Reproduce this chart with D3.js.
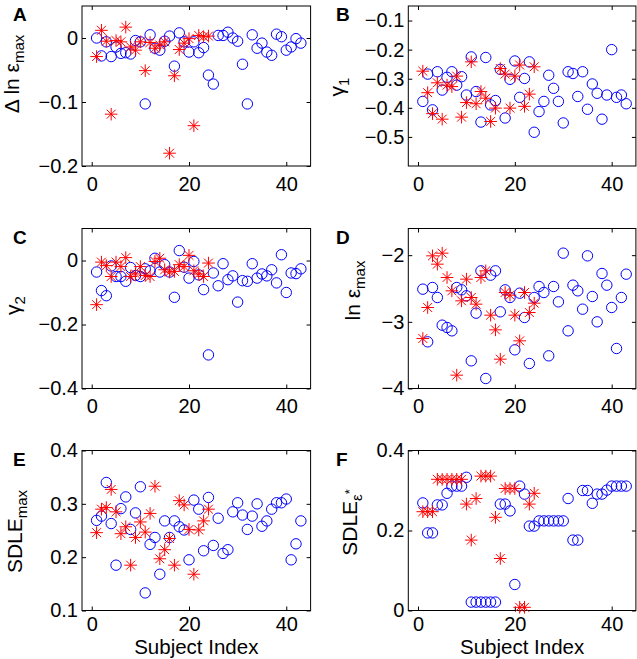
<!DOCTYPE html>
<html>
<head>
<meta charset="utf-8">
<script src="https://cdn.jsdelivr.net/npm/d3@7"></script>
<style>
body { margin: 0; background: #fff; }
text { font-family: "Liberation Sans", Arial, sans-serif; fill: #000; }
</style>
</head>
<body>
<div id="fig"></div>
<script>
var width = 637,
    height = 659;

// values, subject index = position in array + 1
var dlnBlue = [0.000,-0.028,-0.006,-0.029,-0.014,-0.024,-0.023,-0.025,-0.004,-0.006,-0.103,0.005,-0.016,-0.019,-0.005,0.003,-0.044,0.008,-0.006,-0.022,-0.006,-0.023,-0.015,-0.058,-0.072,0.004,0.004,0.009,0.000,-0.005,-0.041,-0.103,0.005,-0.016,-0.008,-0.022,-0.027,0.006,0.002,-0.019,-0.014,-0.001,-0.008];
var dlnRed = [-0.029,0.012,-0.005,-0.119,-0.004,-0.006,0.017,-0.014,-0.019,-0.006,-0.051,-0.007,-0.016,-0.011,-0.006,-0.180,-0.059,-0.018,-0.008,-0.001,-0.137,0.004,0.002,0.003];

var gamma1Blue = [-0.378,-0.284,-0.407,-0.276,-0.339,-0.295,-0.276,-0.322,-0.293,-0.356,-0.225,-0.344,-0.449,-0.227,-0.390,-0.375,-0.268,-0.435,-0.302,-0.239,-0.364,-0.299,-0.242,-0.484,-0.413,-0.378,-0.288,-0.333,-0.378,-0.452,-0.276,-0.282,-0.361,-0.276,-0.405,-0.318,-0.350,-0.439,-0.356,-0.200,-0.364,-0.356,-0.386];
var gamma1Red = [-0.274,-0.348,-0.420,-0.314,-0.439,-0.322,-0.327,-0.291,-0.432,-0.382,-0.242,-0.386,-0.344,-0.367,-0.447,-0.401,-0.265,-0.284,-0.401,-0.291,-0.253,-0.395,-0.353,-0.259];

var gamma2Blue = [-0.036,-0.094,-0.110,-0.017,-0.050,-0.050,-0.065,-0.022,-0.047,-0.050,-0.026,-0.032,0.007,-0.036,-0.013,-0.036,-0.115,0.031,-0.021,-0.055,-0.003,-0.045,-0.091,-0.295,-0.039,-0.079,-0.010,-0.060,-0.048,-0.130,-0.063,-0.065,-0.010,-0.055,-0.042,-0.048,-0.029,-0.070,0.018,-0.100,-0.039,-0.041,-0.026];
var gamma2Red = [-0.138,-0.005,-0.016,-0.050,-0.005,-0.019,0.009,-0.050,-0.042,-0.019,-0.047,-0.050,-0.003,0.007,-0.029,-0.036,-0.034,-0.013,-0.019,0.016,-0.032,-0.042,-0.050,-0.008];

var lnEpsBlue = [-2.51,-3.30,-2.485,-2.635,-3.05,-3.085,-3.135,-2.485,-2.52,-2.61,-3.585,-2.87,-2.235,-3.85,-2.30,-2.235,-2.85,-2.52,-2.635,-3.42,-2.57,-2.935,-3.625,-2.635,-2.47,-2.56,-3.51,-2.47,-2.70,-1.97,-3.135,-2.45,-2.535,-2.81,-2.01,-2.62,-3.00,-2.275,-2.45,-2.785,-3.40,-2.635,-2.285];
var lnEpsRed = [-3.25,-2.785,-2.01,-2.135,-1.97,-2.335,-2.535,-3.80,-2.685,-2.36,-2.635,-2.735,-2.335,-2.235,-2.90,-3.12,-3.56,-2.56,-2.60,-2.90,-3.285,-2.56,-2.86,-2.72];

var sdleMaxBlue = [0.269,0.277,0.340,0.263,0.185,0.291,0.313,0.252,0.283,0.332,0.133,0.224,0.237,0.168,0.268,0.237,0.268,0.257,0.251,0.195,0.307,0.290,0.212,0.312,0.222,0.273,0.207,0.214,0.285,0.302,0.279,0.252,0.277,0.300,0.258,0.268,0.290,0.302,0.302,0.309,0.195,0.225,0.268];
var sdleMaxRed = [0.246,0.290,0.293,0.327,0.285,0.244,0.257,0.185,0.237,0.266,0.247,0.282,0.333,0.197,0.214,0.235,0.185,0.306,0.298,0.252,0.168,0.251,0.268,0.290];

var sdleEpsBlue = [0.269,0.194,0.194,0.264,0.264,0.293,0.311,0.311,0.311,0.333,0.021,0.021,0.021,0.021,0.021,0.021,0.266,0.266,0.249,0.065,0.311,0.291,0.211,0.211,0.224,0.224,0.224,0.224,0.224,0.224,0.280,0.176,0.176,0.300,0.300,0.268,0.291,0.291,0.301,0.311,0.311,0.311,0.311];
var sdleEpsRed = [0.247,0.247,0.247,0.328,0.328,0.328,0.328,0.328,0.328,0.266,0.176,0.280,0.336,0.336,0.336,0.233,0.130,0.305,0.305,0.305,0.008,0.008,0.266,0.293];

var xTicks = [0, 20, 40];
var xTitle = "Subject Index";

// panel setup: letter, data, y range, ticks, label (main + subscript)
var panels = [
  {letter:"A", blue:dlnBlue, red:dlnRed, yDom:[-0.2,0.05], yTicks:[-0.2,-0.1,0], lab:"Δ ln ε", sub:"max", col:0, row:0, labDx:63, labCy:68},
  {letter:"B", blue:gamma1Blue, red:gamma1Red, yDom:[-0.6,-0.05], yTicks:[-0.5,-0.4,-0.3,-0.2,-0.1], lab:"γ", sub:"1", col:1, row:0, labDx:64, labCy:81},
  {letter:"C", blue:gamma2Blue, red:gamma2Red, yDom:[-0.4,0.1], yTicks:[-0.4,-0.2,0], lab:"γ", sub:"2", col:0, row:1, labDx:62, labCy:77},
  {letter:"D", blue:lnEpsBlue, red:lnEpsRed, yDom:[-4,-1.6], yTicks:[-4,-3,-2], lab:"ln ε", sub:"max", col:1, row:1, labDx:48, labCy:62},
  {letter:"E", blue:sdleMaxBlue, red:sdleMaxRed, yDom:[0.1,0.4], yTicks:[0.1,0.2,0.3,0.4], lab:"SDLE", sub:"max", col:0, row:2, labDx:60, labCy:81},
  {letter:"F", blue:sdleEpsBlue, red:sdleEpsRed, yDom:[0,0.4], yTicks:[0,0.2,0.4], lab:"SDLE", sub:"ε", sup:"*", col:1, row:2, labDx:51, labCy:72}
];

var colX = [[82, 310.6], [408.3, 635.9]];
var rowTop = [6, 228.5, 450.5];
var rowPad = [11, 10, 6];
var boxH = 160;
var tick = 4;

var svg = d3.select("#fig").append("svg")
    .attr("width", width)
    .attr("height", height)

function star(s) {
  var d = s * 0.7071;
  return "M" + (-s) + ",0H" + s + "M0," + (-s) + "V" + s +
         "M" + (-d) + "," + (-d) + "L" + d + "," + d +
         "M" + (-d) + "," + d + "L" + d + "," + (-d);
}

panels.forEach(function(p){
  var x0 = colX[p.col][0], x1 = colX[p.col][1];
  var y0 = rowTop[p.row], y1 = y0 + boxH;

  var x = d3.scaleLinear().domain([-2, 45]).range([x0, x1]);
  var y = d3.scaleLinear().domain(p.yDom).range([y1, y0]);
  var fmt = d3.format("");

  var g = svg.append("g");

  // box
  g.append("rect")
    .attr("x", x0).attr("y", y0)
    .attr("width", x1 - x0).attr("height", y1 - y0)
    .attr("fill", "none").attr("stroke", "#000").attr("stroke-width", 1);

  var ax = g.append("g").attr("transform", "translate(0," + y1 + ")")
    .call(d3.axisBottom(x).tickValues(xTicks).tickSize(-tick).tickSizeOuter(0).tickPadding(rowPad[p.row]).tickFormat(fmt));
  var axTop = g.append("g").attr("transform", "translate(0," + y0 + ")")
    .call(d3.axisTop(x).tickValues(xTicks).tickSize(-tick).tickSizeOuter(0).tickFormat(""));
  var ay = g.append("g").attr("transform", "translate(" + x0 + ",0)")
    .call(d3.axisLeft(y).tickValues(p.yTicks).tickSize(-tick).tickSizeOuter(0).tickPadding(4).tickFormat(fmt));
  var ayR = g.append("g").attr("transform", "translate(" + x1 + ",0)")
    .call(d3.axisRight(y).tickValues(p.yTicks).tickSize(-tick).tickSizeOuter(0).tickFormat(""));

  [ax, axTop, ay, ayR].forEach(function(a){
    a.select(".domain").remove();
    a.selectAll("text").style("font-size", "20px").attr("fill", "#000")
      .style("font-family", '"Liberation Sans", Arial, sans-serif');
    a.selectAll("line").attr("stroke", "#000");
  });

  // blue circles
  g.append("g").selectAll("circle")
    .data(p.blue)
    .join("circle")
    .attr("cx", function(d, i){ return x(i + 1); })
    .attr("cy", function(d){ return y(d); })
    .attr("r", 5.2)
    .attr("fill", "none")
    .attr("stroke", "#0000ff")
    .attr("stroke-width", 1);

  // red asterisks
  g.append("g").selectAll("path")
    .data(p.red)
    .join("path")
    .attr("transform", function(d, i){ return "translate(" + x(i + 1) + "," + y(d) + ")"; })
    .attr("d", star(6.3))
    .attr("fill", "none")
    .attr("stroke", "#ff0000")
    .attr("stroke-width", 1);

  // y label
  var t = g.append("text")
    .attr("transform", "translate(" + (x0 - p.labDx) + "," + (y0 + p.labCy) + ") rotate(-90)")
    .attr("text-anchor", "middle")
    .style("font-size", "21px");
  t.append("tspan").text(p.lab);
  t.append("tspan").attr("dy", 5).style("font-size", "15px").text(p.sub);
  if (p.sup) {
    t.append("tspan").attr("dy", -8).style("font-size", "13px").text(p.sup);
  }

  // panel letter
  g.append("text")
    .attr("x", p.col == 0 ? 13 : 336)
    .attr("y", y0 + 15)
    .style("font-size", "19px")
    .style("font-weight", "bold")
    .text(p.letter);

  if (p.row == 2) {
    g.append("text")
      .attr("x", (x0 + x1) / 2)
      .attr("y", 654)
      .attr("text-anchor", "middle")
      .style("font-size", "20.5px")
      .text(xTitle);
  }
});
</script>
</body>
</html>
